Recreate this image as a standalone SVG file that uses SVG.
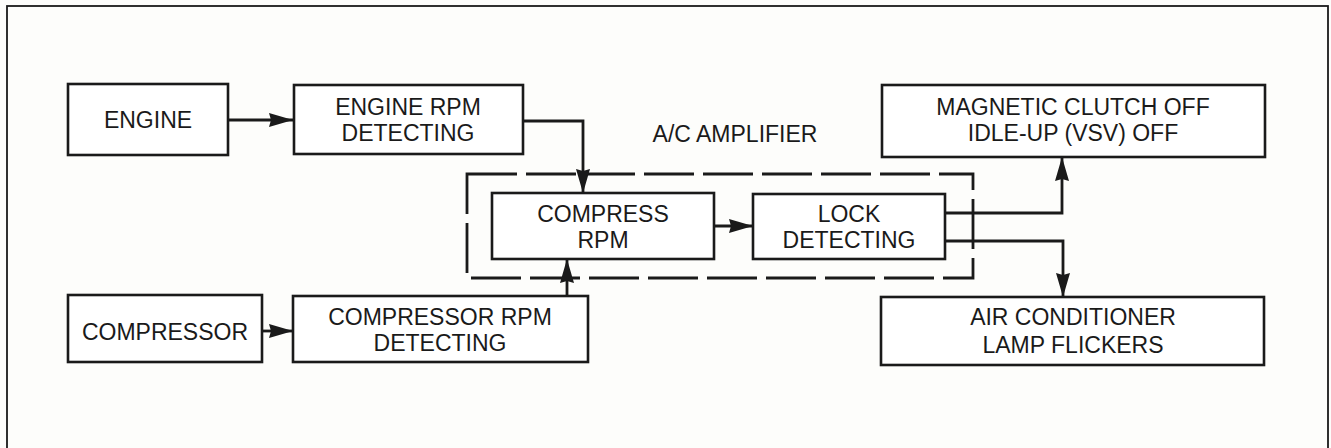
<svg xmlns="http://www.w3.org/2000/svg" width="1331" height="448" viewBox="0 0 1331 448">
<style>
.box{fill:#fff;stroke:#1a1a1a;stroke-width:2.6}
.t{font-family:"Liberation Sans",Arial,sans-serif;font-size:23px;fill:#1a1a1a;text-anchor:middle}
.c{fill:none;stroke:#1a1a1a;stroke-width:2.8}
.d{fill:none;stroke:#1a1a1a;stroke-width:2.8;stroke-dasharray:50 9}
</style>
<defs>
<marker id="ah" viewBox="0 0 24 16" refX="24" refY="8" markerWidth="24" markerHeight="16" markerUnits="userSpaceOnUse" orient="auto">
<path d="M0,1 L24,8 L0,15 L2,8 Z" fill="#1a1a1a"/>
</marker>
</defs>
<rect x="0" y="0" width="1331" height="448" fill="#fdfdfb"/>
<rect x="7" y="6" width="1321" height="443" fill="none" stroke="#1a1a1a" stroke-width="1.8"/>
<g id="amplifier">
<rect class="d" x="467" y="174" width="506" height="104"/>
<text class="t" x="735" y="142">A/C AMPLIFIER</text>
</g>
<g id="connectors">
<path class="c" d="M228,120 H293" marker-end="url(#ah)"/>
<path class="c" d="M523,121 H583 V193" marker-end="url(#ah)"/>
<path class="c" d="M262,331 H293" marker-end="url(#ah)"/>
<path class="c" d="M567,296 V259" marker-end="url(#ah)"/>
<path class="c" d="M714,226 H753" marker-end="url(#ah)"/>
<path class="c" d="M945,213 H1062 V157" marker-end="url(#ah)"/>
<path class="c" d="M945,241 H1063 V297" marker-end="url(#ah)"/>
</g>
<g id="engine">
<rect class="box" x="68" y="84" width="160" height="71"/>
<text class="t" x="148" y="128">ENGINE</text>
</g>
<g id="engine-rpm">
<rect class="box" x="294" y="85" width="229" height="69"/>
<text class="t" x="408" y="115">ENGINE RPM</text>
<text class="t" x="408" y="141">DETECTING</text>
</g>
<g id="compressor">
<rect class="box" x="68" y="295" width="194" height="67"/>
<text class="t" x="165" y="340">COMPRESSOR</text>
</g>
<g id="compressor-rpm">
<rect class="box" x="293" y="296" width="295" height="66"/>
<text class="t" x="440" y="325">COMPRESSOR RPM</text>
<text class="t" x="440" y="351">DETECTING</text>
</g>
<g id="compress-rpm">
<rect class="box" x="492" y="193" width="222" height="66"/>
<text class="t" x="603" y="222">COMPRESS</text>
<text class="t" x="603" y="248">RPM</text>
</g>
<g id="lock-detecting">
<rect class="box" x="753" y="194" width="192" height="65"/>
<text class="t" x="849" y="222">LOCK</text>
<text class="t" x="849" y="248">DETECTING</text>
</g>
<g id="magnetic-clutch">
<rect class="box" x="882" y="85" width="383" height="72"/>
<text class="t" x="1073" y="115">MAGNETIC CLUTCH OFF</text>
<text class="t" x="1073" y="141">IDLE-UP (VSV) OFF</text>
</g>
<g id="ac-lamp">
<rect class="box" x="881" y="297" width="383" height="68"/>
<text class="t" x="1073" y="325">AIR CONDITIONER</text>
<text class="t" x="1073" y="353">LAMP FLICKERS</text>
</g>
</svg>
